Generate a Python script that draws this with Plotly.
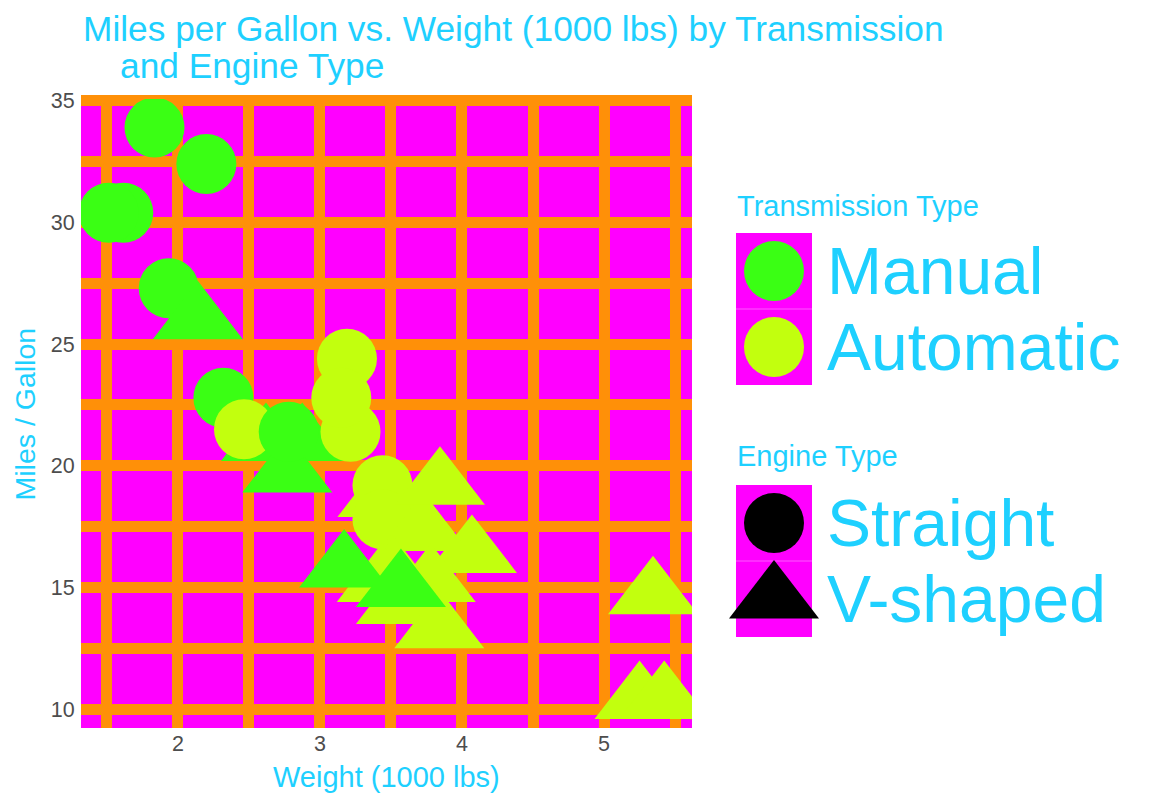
import plotly.graph_objects as go

# ---- data (mtcars) ----
wt = [2.620, 2.875, 2.320, 3.215, 3.440, 3.460, 3.570, 3.190, 3.150, 3.440, 3.440,
      4.070, 3.730, 3.780, 5.250, 5.424, 5.345, 2.200, 1.615, 1.835, 2.465, 3.520,
      3.435, 3.840, 3.845, 1.935, 2.140, 1.513, 3.170, 2.770, 3.570, 2.780]
mpg = [21.0, 21.0, 22.8, 21.4, 18.7, 18.1, 14.3, 24.4, 22.8, 19.2, 17.8,
       16.4, 17.3, 15.2, 10.4, 10.4, 14.7, 32.4, 30.4, 33.9, 21.5, 15.5,
       15.2, 13.3, 19.2, 27.3, 26.0, 30.4, 15.8, 19.7, 15.0, 21.4]
am = [1, 1, 1, 0, 0, 0, 0, 0, 0, 0, 0, 0, 0, 0, 0, 0, 0, 1, 1, 1, 0, 0, 0, 0, 0, 1, 1, 1, 1, 1, 1, 1]
vs = [0, 0, 1, 1, 0, 1, 0, 1, 1, 1, 1, 0, 0, 0, 0, 0, 0, 1, 1, 1, 1, 0, 0, 0, 0, 1, 0, 1, 0, 0, 0, 1]

trans_labels = ["Manual", "Automatic"]      # am = 1, am = 0
engine_labels = ["Straight", "V-shaped"]     # vs = 1, vs = 0
x_ticks = [2, 3, 4, 5]
y_ticks = [10, 15, 20, 25, 30, 35]

title_line1 = "Miles per Gallon vs. Weight (1000 lbs) by Transmission"
title_line2 = "and Engine Type"
x_title = "Weight (1000 lbs)"
y_title = "Miles / Gallon"

# ---- styles ----
GREEN = "#3AFF14"
LIME = "#C2FF0E"
ORANGE = "#FF9008"
MAGENTA = "#FF00FF"
BLUE = "#1ED0FF"
TICK = "#4D4D4D"
FONT = "Liberation Sans, Arial, sans-serif"
am_color = {1: GREEN, 0: LIME}
vs_symbol = {1: "circle", 0: "triangle-up"}
vs_size = {1: 60, 0: 78}

# page body has an 8px margin: lay the figure out in "screen" pixels
OFF = 8
W, H = 1152 - OFF, 806 - OFF
L, R, T, B = 81 - OFF, 10, 99 - OFF, 78
PW = W - L - R
PH = H - T - B


def px(xs):
    return (xs - OFF - L) / PW


def py(ys):
    return (H - B - (ys - OFF)) / PH


fig = go.Figure()

fig.add_trace(go.Scatter(
    x=wt, y=mpg, mode="markers",
    marker=dict(color=[am_color[a] for a in am],
                symbol=[vs_symbol[v] for v in vs],
                size=[vs_size[v] for v in vs],
                line=dict(width=0), opacity=1),
    showlegend=False, hoverinfo="skip", cliponaxis=True,
))

# legend keys drawn on small helper subplots
fig.add_trace(go.Scatter(
    x=[0.5, 0.5], y=[1.5, 0.5], mode="markers", xaxis="x2", yaxis="y2",
    marker=dict(color=[am_color[1], am_color[0]], symbol="circle", size=60,
                line=dict(width=0), opacity=1),
    showlegend=False, hoverinfo="skip", cliponaxis=False,
))
fig.add_trace(go.Scatter(
    x=[0.5, 0.5], y=[1.5, 0.5], mode="markers", xaxis="x3", yaxis="y3",
    marker=dict(color="black", symbol=[vs_symbol[1], vs_symbol[0]],
                size=[vs_size[1], vs_size[0]], line=dict(width=0), opacity=1),
    showlegend=False, hoverinfo="skip", cliponaxis=False,
))

x0, x1 = min(wt), max(wt)
y0, y1 = min(mpg), max(mpg)
xr = [x0 - 0.05 * (x1 - x0), x1 + 0.05 * (x1 - x0)]
yr = [y0 - 0.05 * (y1 - y0), y1 + 0.05 * (y1 - y0)]

main_w = 611 / PW
key_x = [px(736), px(812)]

fig.update_layout(
    template="none",
    width=W, height=H,
    margin=dict(l=L, r=R, t=T, b=B, pad=0),
    paper_bgcolor="white",
    plot_bgcolor=MAGENTA,
    font=dict(family=FONT, color=TICK),
    xaxis=dict(
        domain=[0, main_w], range=xr, tickvals=x_ticks,
        showgrid=True, gridcolor=ORANGE, gridwidth=11,
        minor=dict(dtick=0.5, tick0=0, showgrid=True, gridcolor=ORANGE, gridwidth=11),
        zeroline=False, showline=False, ticks="",
        tickfont=dict(size=21.5, color=TICK, family=FONT),
        automargin=False, fixedrange=True,
    ),
    yaxis=dict(
        domain=[0, 1], range=yr, tickvals=y_ticks,
        showgrid=True, gridcolor=ORANGE, gridwidth=11,
        minor=dict(dtick=2.5, tick0=0, showgrid=True, gridcolor=ORANGE, gridwidth=11),
        zeroline=False, showline=False,
        ticks="outside", ticklen=1, tickcolor="rgba(0,0,0,0)",
        tickfont=dict(size=21.5, color=TICK, family=FONT),
        automargin=False, fixedrange=True,
    ),
    xaxis2=dict(domain=key_x, range=[0, 1], visible=False, fixedrange=True),
    yaxis2=dict(domain=[py(385), py(233)], range=[0, 2], visible=False, fixedrange=True),
    xaxis3=dict(domain=key_x, range=[0, 1], visible=False, fixedrange=True),
    yaxis3=dict(domain=[py(637), py(485)], range=[0, 2], visible=False, fixedrange=True),
    showlegend=False,
)

# faint separators between keys
for ax in ("2", "3"):
    fig.add_shape(type="line", xref="x" + ax, yref="y" + ax, x0=0, x1=1, y0=1, y1=1,
                  line=dict(color="rgba(255,255,255,0.35)", width=1), layer="below")


def text_ann(text, x, y, size, xanchor="left", angle=0, yref="paper"):
    return dict(text=text, x=x, y=y, xref="paper", yref=yref,
                xanchor=xanchor, yanchor="middle", showarrow=False, textangle=angle,
                font=dict(size=size, color=BLUE, family=FONT))


ann = [
    text_ann(title_line1, px(81), py(28), 35.3),
    text_ann(title_line2, px(118), py(65), 35.3),
    text_ann(x_title, px(386.5), py(777), 29, xanchor="center"),
    text_ann(y_title, px(24), py(414.5), 28.5, xanchor="center", angle=-90),
    text_ann("Transmission Type", px(735), py(206), 29),
    text_ann("Engine Type", px(735), py(456), 29),
]
for i, lab in enumerate(trans_labels):
    a = text_ann(lab, px(825), 1.5 - i, 66, yref="y2")
    ann.append(a)
for i, lab in enumerate(engine_labels):
    a = text_ann(lab, px(825), 1.5 - i, 66, yref="y3")
    ann.append(a)
fig.update_layout(annotations=ann)

fig.write_html("out.html")
